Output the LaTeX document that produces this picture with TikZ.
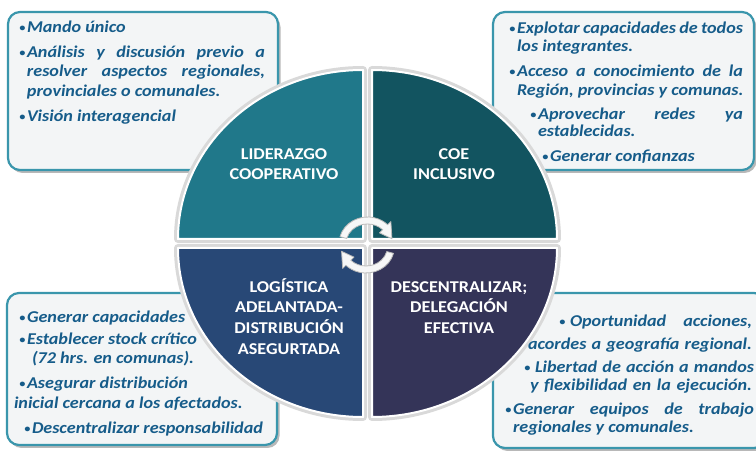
\documentclass[tikz,border=0pt]{standalone}
\usepackage{fontspec}
\setmainfont{Carlito}[FakeStretch=1.1]
\definecolor{qtl}{RGB}{32,120,138}
\definecolor{qtr}{RGB}{18,84,96}
\definecolor{qbl}{RGB}{40,72,118}
\definecolor{qbr}{RGB}{52,52,88}
\definecolor{boxline}{RGB}{58,150,172}
\definecolor{boxfill}{RGB}{243,245,246}
\definecolor{txtblue}{RGB}{22,92,138}
\newcommand\jline[2]{\makebox[#1][s]{#2}}
\newcommand\bul{\raisebox{1.3pt}{\fontsize{11}{11}\selectfont •}\hspace{1.5pt}}
\tikzset{
 infobox/.style={rounded corners=12pt, draw=boxline, line width=2.2pt, fill=boxfill},
 boxshadow/.style={rounded corners=12pt, fill=black, opacity=0.28},
 ln/.style={anchor=base west, inner sep=0pt, outer sep=0pt, text=txtblue, font=\fontsize{16.5}{19.5}\selectfont\bfseries\itshape},
 qt/.style={anchor=base, inner sep=0pt, outer sep=0pt, text=white, font=\fontsize{16.5}{20}\selectfont\bfseries},
 quad/.style={draw=white, line width=2pt, line join=round},
 quadshadow/.style={draw=gray!30, line width=8pt, line join=round},
 cyc/.style={fill=gray!6, draw=gray!55, line width=0.8pt, line join=round}
}
\begin{document}
\begin{tikzpicture}[x=1pt,y=1pt]
\useasboundingbox (0,0) rectangle (756,453);
\fill[white] (0,0) rectangle (756,453);
% ---- info boxes ----
\fill[boxshadow] (10.5,280) rectangle (280.5,438);
\draw[infobox] (8,283) rectangle (278,441);
\fill[boxshadow] (495.5,280) rectangle (756.5,438);
\draw[infobox] (493,283) rectangle (754,441);
\fill[boxshadow] (9.5,5) rectangle (279.5,157);
\draw[infobox] (7,8) rectangle (277,160);
\fill[boxshadow] (495.5,2) rectangle (768.5,157);
\draw[infobox] (493,5) rectangle (766,160);
% ---- quadrants ----
\draw[quadshadow] (363,214) -- (178,214) arc[start angle=180, end angle=90, x radius=185, y radius=169] -- cycle;
\draw[quadshadow] (372,214) -- (372,383) arc[start angle=90, end angle=0, x radius=185, y radius=169] -- cycle;
\draw[quadshadow] (363,205) -- (363,36) arc[start angle=270, end angle=180, x radius=185, y radius=169] -- cycle;
\draw[quadshadow] (372,205) -- (557,205) arc[start angle=0, end angle=-90, x radius=185, y radius=169] -- cycle;
\draw[quad, fill=qtl] (363,214) -- (178,214) arc[start angle=180, end angle=90, x radius=185, y radius=169] -- cycle;
\draw[quad, fill=qtr] (372,214) -- (372,383) arc[start angle=90, end angle=0, x radius=185, y radius=169] -- cycle;
\draw[quad, fill=qbl] (363,205) -- (363,36) arc[start angle=270, end angle=180, x radius=185, y radius=169] -- cycle;
\draw[quad, fill=qbr] (372,205) -- (557,205) arc[start angle=0, end angle=-90, x radius=185, y radius=169] -- cycle;
% ---- quadrant labels ----
\node[qt] (q1a) at (284,293) {LIDERAZGO};
\node[qt] (q1b) at (284,273) {COOPERATIVO};
\node[qt] (q2a) at (454,293) {COE};
\node[qt] (q2b) at (454,273) {INCLUSIVO};
\node[qt] (q3a) at (289,160) {LOGÍSTICA};
\node[qt] (q3b) at (289,140) {ADELANTADA-};
\node[qt] (q3c) at (289,119) {DISTRIBUCIÓN};
\node[qt] (q3d) at (289,98) {ASEGURTADA};
\node[qt] (q4a) at (459,160) {DESCENTRALIZAR;};
\node[qt] (q4b) at (459,140) {DELEGACIÓN};
\node[qt] (q4c) at (459,119) {EFECTIVA};
% ---- cycle arrows ----
\begin{scope}[shift={(367.5,209.5)}]
\draw[cyc] (165:28.5 and 26.5) arc[start angle=165, end angle=45, x radius=28.5, y radius=26.5]
  -- (45:33 and 31) -- (12:25 and 23) -- (45:17 and 15) -- (45:21.5 and 19.5)
  arc[start angle=45, end angle=165, x radius=21.5, y radius=19.5] -- cycle;
\end{scope}
\begin{scope}[shift={(366,206.5)}]
\draw[cyc] (-15:28.5 and 26.5) arc[start angle=-15, end angle=-135, x radius=28.5, y radius=26.5]
  -- (-135:33 and 31) -- (-168:25 and 23) -- (-135:17 and 15) -- (-135:21.5 and 19.5)
  arc[start angle=-135, end angle=-15, x radius=21.5, y radius=19.5] -- cycle;
\end{scope}
% ---- top-left box text ----
\node[ln] (a1) at (27,420) {\llap{\bul}Mando único};
\node[ln] (a2) at (27,395) {\llap{\bul}\jline{238pt}{Análisis y discusión previo a}};
\node[ln] (a3) at (27,376) {\jline{238pt}{resolver aspectos regionales,}};
\node[ln] (a4) at (27,356) {provinciales o comunales.};
\node[ln] (a5) at (27,331) {\llap{\bul}Visión interagencial};
% ---- top-right box text ----
\node[ln] (b1) at (517,419) {\llap{\bul}\jline{226pt}{Explotar capacidades de todos}};
\node[ln] (b2) at (517,401) {los integrantes.};
\node[ln] (b3) at (517,376) {\llap{\bul}\jline{226pt}{Acceso a conocimiento de la}};
\node[ln] (b4) at (517,357) {Región, provincias y comunas.};
\node[ln] (b5) at (538,333) {\llap{\bul}\jline{205pt}{Aprovechar redes ya}};
\node[ln] (b6) at (538,316) {establecidas.};
\node[ln] (b7) at (550,291) {\llap{\bul}Generar confianzas};
% ---- bottom-left box text ----
\node[ln] (c1) at (27,130) {\llap{\bul}Generar capacidades};
\node[ln] (c2) at (27,108) {\llap{\bul}Establecer stock crítico};
\node[ln] (c3) at (32,89) {(72 hrs. en comunas).};
\node[ln] (c4) at (27,64) {\llap{\bul}Asegurar distribución};
\node[ln] (c5) at (14,44) {inicial cercana a los afectados.};
\node[ln] (c6) at (32,19) {\llap{\bul}Descentralizar responsabilidad};
% ---- bottom-right box text ----
\node[ln] (d1) at (570,126) {\llap{\bul\hspace{3pt}}\jline{182pt}{Oportunidad acciones,}};
\node[ln] (d2) at (528,103) {\jline{224pt}{acordes a geografía regional.}};
\node[ln] (d3) at (535,80) {\llap{\bul\hspace{3pt}}\jline{219pt}{Libertad de acción a mandos}};
\node[ln] (d4) at (530,62) {\jline{222pt}{y flexibilidad en la ejecución.}};
\node[ln] (d5) at (513,38) {\llap{\bul}\jline{241pt}{Generar equipos de trabajo}};
\node[ln] (d6) at (513,20) {regionales y comunales.};
\end{tikzpicture}
\end{document}
